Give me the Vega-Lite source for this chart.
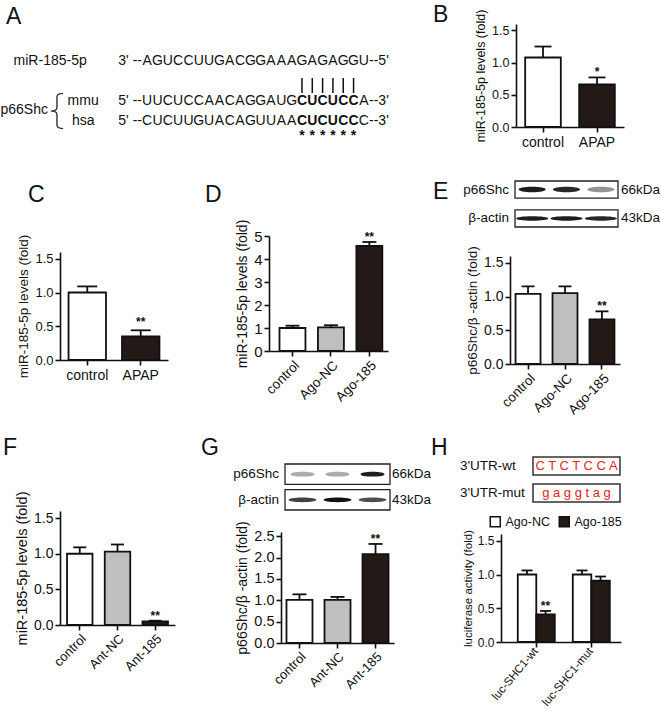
{
  "$schema": "https://vega.github.io/schema/vega-lite/v6.json",
  "background": "#ffffff",
  "padding": {"left": 0, "top": 4, "right": 0, "bottom": 0},
  "autosize": {"type": "pad"},
  "config": {
    "view": {"stroke": null},
    "font": "Liberation Sans",
    "axis": {"domainColor": "#111111", "domainWidth": 1.6, "tickColor": "#111111", "tickWidth": 1.6, "tickSize": 5, "labelColor": "#111111", "titleColor": "#111111", "titleFontWeight": "normal", "grid": false, "labelFont": "Liberation Sans", "titleFont": "Liberation Sans", "labelPadding": 2, "titlePadding": 4, "labelOverlap": false},
    "title": {"font": "Liberation Sans", "fontSize": 23, "fontWeight": "normal", "anchor": "start", "frame": "group", "baseline": "alphabetic", "color": "#111111"},
    "text": {"font": "Liberation Sans", "color": "#111111"},
    "legend": {"labelFont": "Liberation Sans"}
  },
  "resolve": {"scale": {"fill": "independent", "opacity": "independent"}, "legend": {"fill": "independent", "opacity": "independent"}},
  "datasets": {
    "Aseq": [
      {"u":0,"i":1,"t":"A","b":0},{"u":0,"i":2,"t":"G","b":0},{"u":0,"i":3,"t":"U","b":0},{"u":0,"i":4,"t":"C","b":0},{"u":0,"i":5,"t":"C","b":0},{"u":0,"i":6,"t":"U","b":0},{"u":0,"i":7,"t":"U","b":0},{"u":0,"i":8,"t":"G","b":0},{"u":0,"i":9,"t":"A","b":0},{"u":0,"i":10,"t":"C","b":0},{"u":0,"i":11,"t":"G","b":0},{"u":0,"i":12,"t":"G","b":0},{"u":0,"i":13,"t":"A","b":0},{"u":0,"i":14,"t":"A","b":0},{"u":0,"i":15,"t":"A","b":0},{"u":0,"i":16,"t":"G","b":0},{"u":0,"i":17,"t":"A","b":0},{"u":0,"i":18,"t":"G","b":0},{"u":0,"i":19,"t":"A","b":0},{"u":0,"i":20,"t":"G","b":0},{"u":0,"i":21,"t":"G","b":0},{"u":0,"i":22,"t":"U","b":0},
      {"u":2,"i":1,"t":"U","b":0},{"u":2,"i":2,"t":"U","b":0},{"u":2,"i":3,"t":"C","b":0},{"u":2,"i":4,"t":"U","b":0},{"u":2,"i":5,"t":"C","b":0},{"u":2,"i":6,"t":"C","b":0},{"u":2,"i":7,"t":"A","b":0},{"u":2,"i":8,"t":"A","b":0},{"u":2,"i":9,"t":"C","b":0},{"u":2,"i":10,"t":"A","b":0},{"u":2,"i":11,"t":"G","b":0},{"u":2,"i":12,"t":"G","b":0},{"u":2,"i":13,"t":"A","b":0},{"u":2,"i":14,"t":"U","b":0},{"u":2,"i":15,"t":"G","b":0},{"u":2,"i":16,"t":"C","b":1},{"u":2,"i":17,"t":"U","b":1},{"u":2,"i":18,"t":"C","b":1},{"u":2,"i":19,"t":"U","b":1},{"u":2,"i":20,"t":"C","b":1},{"u":2,"i":21,"t":"C","b":1},{"u":2,"i":22,"t":"A","b":0},
      {"u":3,"i":1,"t":"C","b":0},{"u":3,"i":2,"t":"U","b":0},{"u":3,"i":3,"t":"C","b":0},{"u":3,"i":4,"t":"U","b":0},{"u":3,"i":5,"t":"U","b":0},{"u":3,"i":6,"t":"G","b":0},{"u":3,"i":7,"t":"U","b":0},{"u":3,"i":8,"t":"A","b":0},{"u":3,"i":9,"t":"C","b":0},{"u":3,"i":10,"t":"A","b":0},{"u":3,"i":11,"t":"G","b":0},{"u":3,"i":12,"t":"U","b":0},{"u":3,"i":13,"t":"U","b":0},{"u":3,"i":14,"t":"A","b":0},{"u":3,"i":15,"t":"A","b":0},{"u":3,"i":16,"t":"C","b":1},{"u":3,"i":17,"t":"U","b":1},{"u":3,"i":18,"t":"C","b":1},{"u":3,"i":19,"t":"U","b":1},{"u":3,"i":20,"t":"C","b":1},{"u":3,"i":21,"t":"C","b":1},{"u":3,"i":22,"t":"C","b":0}
    ],
    "Aend": [
      {"u":0,"i":0.5,"t":"3' --","s":"L"},{"u":0,"i":22.5,"t":"--5'","s":"R"},
      {"u":2,"i":0.5,"t":"5' --","s":"L"},{"u":2,"i":22.5,"t":"--3'","s":"R"},
      {"u":3,"i":0.5,"t":"5' --","s":"L"},{"u":3,"i":22.5,"t":"--3'","s":"R"}
    ],
    "Alab": [
      {"u":0,"i":-8.4,"t":"miR-185-5p","a":"c"},
      {"u":2,"i":-5.2,"t":"mmu","a":"c"},
      {"u":3,"i":-5.2,"t":"hsa","a":"c"},
      {"u":2.45,"i":-8.61,"t":"p66Shc","a":"r"}
    ],
    "Apair": [{"i":16},{"i":17},{"i":18},{"i":19},{"i":20},{"i":21}],
    "B": [{"g":"control","v":1.08,"hi":1.25,"s":""},{"g":"APAP","v":0.66,"hi":0.77,"s":"*"}],
    "C": [{"g":"control","v":1.0,"hi":1.09,"s":""},{"g":"APAP","v":0.35,"hi":0.44,"s":"**"}],
    "D": [{"g":"control","v":1.0,"hi":1.1,"s":""},{"g":"Ago-NC","v":1.03,"hi":1.12,"s":""},{"g":"Ago-185","v":4.57,"hi":4.74,"s":"**"}],
    "E": [{"g":"control","v":1.04,"hi":1.15,"s":""},{"g":"Ago-NC","v":1.05,"hi":1.15,"s":""},{"g":"Ago-185","v":0.66,"hi":0.78,"s":"**"}],
    "F": [{"g":"control","v":1.0,"hi":1.09,"s":""},{"g":"Ant-NC","v":1.03,"hi":1.13,"s":""},{"g":"Ant-185","v":0.05,"hi":0.06,"s":"**"}],
    "G": [{"g":"control","v":1.01,"hi":1.14,"s":""},{"g":"Ant-NC","v":1.01,"hi":1.08,"s":""},{"g":"Ant-185","v":2.08,"hi":2.32,"s":"**"}],
    "H": [
      {"c":"luc-SHC1-wt","t":"Ago-NC","v":1.0,"hi":1.06,"s":""},
      {"c":"luc-SHC1-wt","t":"Ago-185","v":0.41,"hi":0.46,"s":"**"},
      {"c":"luc-SHC1-mut","t":"Ago-NC","v":1.0,"hi":1.06,"s":""},
      {"c":"luc-SHC1-mut","t":"Ago-185","v":0.91,"hi":0.97,"s":""}
    ],
    "Blotbox": [{"p":"p66Shc","k":"66kDa"},{"p":"β-actin","k":"43kDa"}],
    "Eband": [
      {"p":"p66Shc","lane":0.5,"int":0.95},{"p":"p66Shc","lane":1.5,"int":0.9},{"p":"p66Shc","lane":2.5,"int":0.45},
      {"p":"β-actin","lane":0.5,"int":0.95},{"p":"β-actin","lane":1.5,"int":0.95},{"p":"β-actin","lane":2.5,"int":0.9}
    ],
    "Gband": [
      {"p":"p66Shc","lane":0.5,"int":0.35},{"p":"p66Shc","lane":1.5,"int":0.35},{"p":"p66Shc","lane":2.5,"int":0.95},
      {"p":"β-actin","lane":0.5,"int":0.8},{"p":"β-actin","lane":1.5,"int":1.0},{"p":"β-actin","lane":2.5,"int":0.75}
    ],
    "Hbox": [{"r":"wt","lab":"3'UTR-wt","seq":"C T C T C C A"},{"r":"mut","lab":"3'UTR-mut","seq":"g a g g t a g"}]
  },
  "columns": 3,
  "align": "each",
  "bounds": "flush",
  "spacing": {"row": 54, "column": 0},
  "concat": [
    {
      "width": 209, "height": 103,
      "title": {"text": "A", "dx": -54, "offset": -5},
      "layer": [
        {"data": {"name": "Aseq"}, "transform": [{"filter": "datum.b == 0"}],
         "mark": {"type": "text", "fontSize": 14, "baseline": "middle", "align": "center"},
         "encoding": {
           "x": {"field": "i", "type": "quantitative", "scale": {"domain": [-7.446, 12.806], "nice": false, "zero": false}, "axis": null},
           "y": {"field": "u", "type": "quantitative", "scale": {"domain": [-1.85, 3.3], "reverse": true, "nice": false, "zero": false}, "axis": null},
           "text": {"field": "t"}}},
        {"data": {"name": "Aseq"}, "transform": [{"filter": "datum.b == 1"}],
         "mark": {"type": "text", "fontSize": 14, "fontWeight": "bold", "baseline": "middle", "align": "center"},
         "encoding": {"x": {"field": "i", "type": "quantitative"}, "y": {"field": "u", "type": "quantitative"}, "text": {"field": "t"}}},
        {"data": {"name": "Aend"}, "transform": [{"filter": "datum.s == 'L'"}],
         "mark": {"type": "text", "fontSize": 14, "baseline": "middle", "align": "right"},
         "encoding": {"x": {"field": "i", "type": "quantitative"}, "y": {"field": "u", "type": "quantitative"}, "text": {"field": "t"}}},
        {"data": {"name": "Aend"}, "transform": [{"filter": "datum.s == 'R'"}],
         "mark": {"type": "text", "fontSize": 14, "baseline": "middle", "align": "left"},
         "encoding": {"x": {"field": "i", "type": "quantitative"}, "y": {"field": "u", "type": "quantitative"}, "text": {"field": "t"}}},
        {"data": {"name": "Alab"}, "transform": [{"filter": "datum.a == 'c'"}],
         "mark": {"type": "text", "fontSize": 14, "baseline": "middle", "align": "center"},
         "encoding": {"x": {"field": "i", "type": "quantitative"}, "y": {"field": "u", "type": "quantitative"}, "text": {"field": "t"}}},
        {"data": {"name": "Alab"}, "transform": [{"filter": "datum.a == 'r'"}],
         "mark": {"type": "text", "fontSize": 14, "baseline": "middle", "align": "right"},
         "encoding": {"x": {"field": "i", "type": "quantitative"}, "y": {"field": "u", "type": "quantitative"}, "text": {"field": "t"}}},
        {"data": {"name": "Apair"},
         "mark": {"type": "rule", "strokeWidth": 1.5, "color": "#111111"},
         "encoding": {"x": {"field": "i", "type": "quantitative"}, "y": {"datum": 0.85}, "y2": {"datum": 1.6}}},
        {"data": {"name": "Apair"},
         "mark": {"type": "text", "text": "*", "fontSize": 14, "fontWeight": "bold", "baseline": "alphabetic", "align": "center"},
         "encoding": {"x": {"field": "i", "type": "quantitative"}, "y": {"datum": 3.97}}},
        {"data": {"values": [{"k": "brace"}]},
         "mark": {"type": "point", "shape": "M0.35,-1 C0.1,-1 0,-0.95 0,-0.8 L0,-0.2 C0,-0.08 -0.1,0 -0.35,0 C-0.1,0 0,0.08 0,0.2 L0,0.8 C0,0.95 0.1,1 0.35,1", "filled": false, "size": 1225, "stroke": "#111111", "strokeWidth": 1.2, "opacity": 1},
         "encoding": {"x": {"datum": -7.74}, "y": {"datum": 2.5}}}
      ]
    },
    {
      "width": 232, "height": 103,
      "data": {"values": [{"t": ""}]},
      "mark": {"type": "text"},
      "encoding": {"text": {"field": "t"}}
    },
    {
      "width": 120, "height": 103,
      "title": {"text": "B", "dx": -68, "offset": -18},
      "data": {"name": "B"},
      "layer": [
        {"mark": {"type": "bar", "stroke": "#111111", "strokeWidth": 1.8},
         "encoding": {
           "x": {"field": "g", "type": "nominal", "sort": null, "scale": {"range": [15, 123], "paddingInner": 0.34, "paddingOuter": 0.17}, "axis": {"title": null, "labelAngle": 0, "labelFontSize": 14, "labelPadding": 3}},
           "y": {"field": "v", "type": "quantitative", "scale": {"domain": [0, 1.5], "range": [103, 0]}, "axis": {"title": "miR-185-5p levels (fold)", "values": [0, 0.5, 1, 1.5], "tickCount": 4, "format": ".1f", "labelFontSize": 12.5, "titleFontSize": 12.5, "offset": -15, "labelOverlap": false}},
           "fill": {"field": "g", "type": "nominal", "scale": {"domain": ["control", "APAP"], "range": ["#ffffff", "#231916"]}, "legend": null}}},
        {"mark": {"type": "rule", "strokeWidth": 1.8, "color": "#111111"},
         "encoding": {"x": {"field": "g", "type": "nominal", "sort": null}, "y": {"field": "v", "type": "quantitative"}, "y2": {"field": "hi"}}},
        {"mark": {"type": "tick", "orient": "horizontal", "size": 17, "thickness": 1.8, "color": "#111111", "opacity": 1},
         "encoding": {"x": {"field": "g", "type": "nominal", "sort": null}, "y": {"field": "hi", "type": "quantitative"}}},
        {"mark": {"type": "text", "baseline": "alphabetic", "dy": -1, "fontSize": 12, "fontWeight": "bold"},
         "encoding": {"x": {"field": "g", "type": "nominal", "sort": null}, "y": {"field": "hi", "type": "quantitative"}, "text": {"field": "s"}}}
      ]
    },
    {
      "width": 209, "height": 183,
      "title": {"text": "C", "dx": -32, "offset": -26},
      "data": {"name": "C"},
      "layer": [
        {"mark": {"type": "bar", "stroke": "#111111", "strokeWidth": 1.8},
         "encoding": {
           "x": {"field": "g", "type": "nominal", "sort": null, "scale": {"range": [0, 108], "paddingInner": 0.3, "paddingOuter": 0.16}, "axis": {"title": null, "labelAngle": 0, "labelFontSize": 14, "labelPadding": 3, "offset": -4}},
           "y": {"field": "v", "type": "quantitative", "scale": {"domain": [0, 1.5], "range": [179, 71]}, "axis": {"title": "miR-185-5p levels (fold)", "values": [0, 0.5, 1, 1.5], "format": ".1f", "labelFontSize": 13, "titleFontSize": 13.5, "labelOverlap": false}},
           "fill": {"field": "g", "type": "nominal", "scale": {"domain": ["control", "APAP"], "range": ["#ffffff", "#231916"]}, "legend": null}}},
        {"mark": {"type": "rule", "strokeWidth": 1.8, "color": "#111111"},
         "encoding": {"x": {"field": "g", "type": "nominal", "sort": null}, "y": {"field": "v", "type": "quantitative"}, "y2": {"field": "hi"}}},
        {"mark": {"type": "tick", "orient": "horizontal", "size": 20, "thickness": 1.8, "color": "#111111", "opacity": 1},
         "encoding": {"x": {"field": "g", "type": "nominal", "sort": null}, "y": {"field": "hi", "type": "quantitative"}}},
        {"mark": {"type": "text", "baseline": "alphabetic", "dy": -4, "fontSize": 12, "fontWeight": "bold"},
         "encoding": {"x": {"field": "g", "type": "nominal", "sort": null}, "y": {"field": "hi", "type": "quantitative"}, "text": {"field": "s"}}}
      ]
    },
    {
      "width": 232, "height": 183,
      "title": {"text": "D", "dx": -64, "offset": -26},
      "data": {"name": "D"},
      "layer": [
        {"mark": {"type": "bar", "stroke": "#111111", "strokeWidth": 1.8},
         "encoding": {
           "x": {"field": "g", "type": "nominal", "sort": null, "scale": {"range": [0, 119], "paddingInner": 0.325, "paddingOuter": 0.21, "align": 0.65}, "axis": {"title": null, "labelAngle": -45, "labelFontSize": 13.5, "labelPadding": 2, "offset": -13}},
           "y": {"field": "v", "type": "quantitative", "scale": {"domain": [0, 5], "range": [170, 55]}, "axis": {"title": "miR-185-5p levels (fold)", "values": [0, 1, 2, 3, 4, 5], "tickCount": 6, "format": ".0f", "labelFontSize": 15, "titleFontSize": 14, "labelOverlap": false}},
           "fill": {"field": "g", "type": "nominal", "scale": {"domain": ["control", "Ago-NC", "Ago-185"], "range": ["#ffffff", "#bfbfbf", "#231916"]}, "legend": null}}},
        {"mark": {"type": "rule", "strokeWidth": 1.8, "color": "#111111"},
         "encoding": {"x": {"field": "g", "type": "nominal", "sort": null}, "y": {"field": "v", "type": "quantitative"}, "y2": {"field": "hi"}}},
        {"mark": {"type": "tick", "orient": "horizontal", "size": 14, "thickness": 1.8, "color": "#111111", "opacity": 1},
         "encoding": {"x": {"field": "g", "type": "nominal", "sort": null}, "y": {"field": "hi", "type": "quantitative"}}},
        {"mark": {"type": "text", "baseline": "alphabetic", "dy": -1, "fontSize": 12, "fontWeight": "bold"},
         "encoding": {"x": {"field": "g", "type": "nominal", "sort": null}, "y": {"field": "hi", "type": "quantitative"}, "text": {"field": "s"}}}
      ]
    },
    {
      "width": 120, "height": 183,
      "title": {"text": "E", "dx": -68, "offset": -24},
      "layer": [
        {
          "data": {"name": "E"},
          "layer": [
            {"mark": {"type": "bar", "stroke": "#111111", "strokeWidth": 1.8},
             "encoding": {
               "x": {"field": "g", "type": "nominal", "sort": null, "scale": {"range": [9, 119], "paddingInner": 0.324, "paddingOuter": 0.15}, "axis": {"title": null, "labelAngle": -45, "labelFontSize": 13.5, "labelPadding": 2}},
               "y": {"field": "v", "type": "quantitative", "scale": {"domain": [0, 1.5], "range": [183, 75]}, "axis": {"title": "p66Shc/β -actin (fold)", "values": [0, 0.5, 1, 1.5], "format": ".1f", "labelFontSize": 14, "titleFontSize": 13.5, "offset": -9, "labelOverlap": false}},
               "fill": {"field": "g", "type": "nominal", "scale": {"domain": ["control", "Ago-NC", "Ago-185"], "range": ["#ffffff", "#bfbfbf", "#231916"]}, "legend": null}}},
            {"mark": {"type": "rule", "strokeWidth": 1.8, "color": "#111111"},
             "encoding": {"x": {"field": "g", "type": "nominal", "sort": null}, "y": {"field": "v", "type": "quantitative"}, "y2": {"field": "hi"}}},
            {"mark": {"type": "tick", "orient": "horizontal", "size": 13, "thickness": 1.8, "color": "#111111", "opacity": 1},
             "encoding": {"x": {"field": "g", "type": "nominal", "sort": null}, "y": {"field": "hi", "type": "quantitative"}}},
            {"mark": {"type": "text", "baseline": "alphabetic", "dy": -1, "fontSize": 12, "fontWeight": "bold"},
             "encoding": {"x": {"field": "g", "type": "nominal", "sort": null}, "y": {"field": "hi", "type": "quantitative"}, "text": {"field": "s"}}}
          ]
        },
        {
          "layer": [
            {"data": {"name": "Blotbox"},
             "mark": {"type": "rect", "fill": "#ffffff", "stroke": "#222222", "strokeWidth": 1.3},
             "encoding": {
               "x": {"datum": 0, "type": "quantitative", "scale": {"domain": [0, 3], "range": [14, 117], "nice": false, "zero": false}, "axis": null},
               "x2": {"datum": 3},
               "y": {"field": "p", "type": "nominal", "sort": null, "scale": {"domain": ["p66Shc", "β-actin"], "range": [0, 46], "paddingInner": 0.41, "paddingOuter": 0}, "axis": null}}},
            {"data": {"name": "Blotbox"},
             "mark": {"type": "text", "align": "right", "baseline": "middle", "dx": -6, "fontSize": 13.5},
             "encoding": {"x": {"datum": 0, "type": "quantitative"}, "y": {"field": "p", "type": "nominal", "sort": null}, "text": {"field": "p"}}},
            {"data": {"name": "Blotbox"},
             "mark": {"type": "text", "align": "left", "baseline": "middle", "dx": 3, "fontSize": 13.5},
             "encoding": {"x": {"datum": 3, "type": "quantitative"}, "y": {"field": "p", "type": "nominal", "sort": null}, "text": {"field": "k"}}},
            {"data": {"name": "Eband"}, "transform": [{"filter": "datum.p == 'p66Shc'"}],
             "mark": {"type": "point", "shape": "M-1,0 C-1,-0.12 -0.6,-0.2 0,-0.2 C0.6,-0.2 1,-0.12 1,0 C1,0.12 0.6,0.2 0,0.2 C-0.6,0.2 -1,0.12 -1,0 Z", "filled": true, "color": "#111111", "size": 729},
             "encoding": {"x": {"field": "lane", "type": "quantitative"}, "y": {"field": "p", "type": "nominal", "sort": null}, "opacity": {"field": "int", "type": "quantitative", "scale": {"domain": [0, 1], "range": [0, 1]}, "legend": null}}},
            {"data": {"name": "Eband"}, "transform": [{"filter": "datum.p == 'β-actin'"}],
             "mark": {"type": "point", "shape": "M-1,0 C-1,-0.08 -0.6,-0.14 0,-0.14 C0.6,-0.14 1,-0.08 1,0 C1,0.08 0.6,0.14 0,0.14 C-0.6,0.14 -1,0.08 -1,0 Z", "filled": true, "color": "#111111", "size": 1024},
             "encoding": {"x": {"field": "lane", "type": "quantitative"}, "y": {"field": "p", "type": "nominal", "sort": null}, "opacity": {"field": "int", "type": "quantitative", "scale": {"domain": [0, 1], "range": [0, 1]}, "legend": null}}}
          ]
        }
      ],
      "resolve": {"scale": {"x": "independent", "y": "independent"}}
    },
    {
      "width": 209, "height": 225,
      "title": {"text": "F", "dx": -57, "offset": -42},
      "data": {"name": "F"},
      "layer": [
        {"mark": {"type": "bar", "stroke": "#111111", "strokeWidth": 1.8},
         "encoding": {
           "x": {"field": "g", "type": "nominal", "sort": null, "scale": {"range": [0, 115], "paddingInner": 0.325, "paddingOuter": 0.186}, "axis": {"title": null, "labelAngle": -45, "labelFontSize": 13, "labelPadding": 2, "offset": -18}},
           "y": {"field": "v", "type": "quantitative", "scale": {"domain": [0, 1.5], "range": [207, 93]}, "axis": {"title": "miR-185-5p levels (fold)", "values": [0, 0.5, 1, 1.5], "format": ".1f", "labelFontSize": 14, "titleFontSize": 14.5, "labelOverlap": false}},
           "fill": {"field": "g", "type": "nominal", "scale": {"domain": ["control", "Ant-NC", "Ant-185"], "range": ["#ffffff", "#bfbfbf", "#231916"]}, "legend": null}}},
        {"mark": {"type": "rule", "strokeWidth": 1.8, "color": "#111111"},
         "encoding": {"x": {"field": "g", "type": "nominal", "sort": null}, "y": {"field": "v", "type": "quantitative"}, "y2": {"field": "hi"}}},
        {"mark": {"type": "tick", "orient": "horizontal", "size": 13, "thickness": 1.8, "color": "#111111", "opacity": 1},
         "encoding": {"x": {"field": "g", "type": "nominal", "sort": null}, "y": {"field": "hi", "type": "quantitative"}}},
        {"mark": {"type": "text", "baseline": "alphabetic", "dy": -1, "fontSize": 12, "fontWeight": "bold"},
         "encoding": {"x": {"field": "g", "type": "nominal", "sort": null}, "y": {"field": "hi", "type": "quantitative"}, "text": {"field": "s"}}}
      ]
    },
    {
      "width": 232, "height": 225,
      "title": {"text": "G", "dx": -68, "offset": -42},
      "layer": [
        {
          "data": {"name": "G"},
          "layer": [
            {"mark": {"type": "bar", "stroke": "#111111", "strokeWidth": 1.8},
             "encoding": {
               "x": {"field": "g", "type": "nominal", "sort": null, "scale": {"range": [12, 125], "paddingInner": 0.316, "paddingOuter": 0.144}, "axis": {"title": null, "labelAngle": -45, "labelFontSize": 13, "labelPadding": 2}},
               "y": {"field": "v", "type": "quantitative", "scale": {"domain": [0, 2.5], "range": [225, 114]}, "axis": {"title": "p66Shc/β -actin (fold)", "values": [0, 0.5, 1, 1.5, 2, 2.5], "format": ".1f", "labelFontSize": 14.5, "titleFontSize": 14, "offset": -12, "labelOverlap": false}},
               "fill": {"field": "g", "type": "nominal", "scale": {"domain": ["control", "Ant-NC", "Ant-185"], "range": ["#ffffff", "#bfbfbf", "#231916"]}, "legend": null}}},
            {"mark": {"type": "rule", "strokeWidth": 1.8, "color": "#111111"},
             "encoding": {"x": {"field": "g", "type": "nominal", "sort": null}, "y": {"field": "v", "type": "quantitative"}, "y2": {"field": "hi"}}},
            {"mark": {"type": "tick", "orient": "horizontal", "size": 14, "thickness": 1.8, "color": "#111111", "opacity": 1},
             "encoding": {"x": {"field": "g", "type": "nominal", "sort": null}, "y": {"field": "hi", "type": "quantitative"}}},
            {"mark": {"type": "text", "baseline": "alphabetic", "dy": -1, "fontSize": 12, "fontWeight": "bold"},
             "encoding": {"x": {"field": "g", "type": "nominal", "sort": null}, "y": {"field": "hi", "type": "quantitative"}, "text": {"field": "s"}}}
          ]
        },
        {
          "layer": [
            {"data": {"name": "Blotbox"},
             "mark": {"type": "rect", "fill": "#ffffff", "stroke": "#222222", "strokeWidth": 1.3},
             "encoding": {
               "x": {"datum": 0, "type": "quantitative", "scale": {"domain": [0, 3], "range": [16, 121], "nice": false, "zero": false}, "axis": null},
               "x2": {"datum": 3},
               "y": {"field": "p", "type": "nominal", "sort": null, "scale": {"domain": ["p66Shc", "β-actin"], "range": [46, 92], "paddingInner": 0.2, "paddingOuter": 0}, "axis": null}}},
            {"data": {"name": "Blotbox"},
             "mark": {"type": "text", "align": "right", "baseline": "middle", "dx": -6, "fontSize": 13.5},
             "encoding": {"x": {"datum": 0, "type": "quantitative"}, "y": {"field": "p", "type": "nominal", "sort": null}, "text": {"field": "p"}}},
            {"data": {"name": "Blotbox"},
             "mark": {"type": "text", "align": "left", "baseline": "middle", "dx": 2, "fontSize": 13.5},
             "encoding": {"x": {"datum": 3, "type": "quantitative"}, "y": {"field": "p", "type": "nominal", "sort": null}, "text": {"field": "k"}}},
            {"data": {"name": "Gband"}, "transform": [{"filter": "datum.p == 'p66Shc'"}],
             "mark": {"type": "point", "shape": "M-1,0 C-1,-0.12 -0.6,-0.2 0,-0.2 C0.6,-0.2 1,-0.12 1,0 C1,0.12 0.6,0.2 0,0.2 C-0.6,0.2 -1,0.12 -1,0 Z", "filled": true, "color": "#111111", "size": 576},
             "encoding": {"x": {"field": "lane", "type": "quantitative"}, "y": {"field": "p", "type": "nominal", "sort": null}, "opacity": {"field": "int", "type": "quantitative", "scale": {"domain": [0, 1], "range": [0, 1]}, "legend": null}}},
            {"data": {"name": "Gband"}, "transform": [{"filter": "datum.p == 'β-actin'"}],
             "mark": {"type": "point", "shape": "M-1,0 C-1,-0.1 -0.6,-0.17 0,-0.17 C0.6,-0.17 1,-0.1 1,0 C1,0.1 0.6,0.17 0,0.17 C-0.6,0.17 -1,0.1 -1,0 Z", "filled": true, "color": "#111111", "size": 784},
             "encoding": {"x": {"field": "lane", "type": "quantitative"}, "y": {"field": "p", "type": "nominal", "sort": null}, "opacity": {"field": "int", "type": "quantitative", "scale": {"domain": [0, 1], "range": [0, 1]}, "legend": null}}}
          ]
        }
      ],
      "resolve": {"scale": {"x": "independent", "y": "independent"}}
    },
    {
      "width": 120, "height": 225,
      "title": {"text": "H", "dx": -70, "offset": -42},
      "layer": [
        {
          "data": {"name": "H"},
          "layer": [
            {"mark": {"type": "bar", "stroke": "#111111", "strokeWidth": 1.8},
             "encoding": {
               "x": {"field": "c", "type": "nominal", "sort": ["luc-SHC1-wt", "luc-SHC1-mut"], "scale": {"range": [0, 120], "paddingInner": 0.327, "paddingOuter": 0.254, "align": 0.6}, "axis": {"title": null, "labelAngle": -50, "labelFontSize": 11.5, "labelPadding": 2, "offset": -1}},
               "xOffset": {"field": "t", "type": "nominal", "sort": ["Ago-NC", "Ago-185"], "scale": {"paddingInner": 0, "paddingOuter": 0}},
               "y": {"field": "v", "type": "quantitative", "scale": {"domain": [0, 1.5], "range": [224, 116]}, "axis": {"title": "luciferase activity (fold)", "values": [0, 0.5, 1, 1.5], "format": ".1f", "labelFontSize": 12, "titleFontSize": 11.5, "labelOverlap": false}},
               "fill": {"field": "t", "type": "nominal", "scale": {"domain": ["Ago-NC", "Ago-185"], "range": ["#ffffff", "#231916"]},
                 "legend": {"orient": "none", "legendX": -12, "legendY": 97, "direction": "horizontal", "title": null, "symbolType": "square", "symbolSize": 100, "symbolStrokeColor": "#111111", "symbolStrokeWidth": 1.5, "labelFontSize": 12.5, "labelColor": "#111111", "labelOffset": 4, "columnPadding": 6}}}},
            {"mark": {"type": "rule", "strokeWidth": 1.8, "color": "#111111"},
             "encoding": {"x": {"field": "c", "type": "nominal", "sort": ["luc-SHC1-wt", "luc-SHC1-mut"]}, "xOffset": {"field": "t", "type": "nominal", "sort": ["Ago-NC", "Ago-185"]}, "y": {"field": "v", "type": "quantitative"}, "y2": {"field": "hi"}}},
            {"mark": {"type": "tick", "orient": "horizontal", "size": 11, "thickness": 1.8, "color": "#111111", "opacity": 1},
             "encoding": {"x": {"field": "c", "type": "nominal", "sort": ["luc-SHC1-wt", "luc-SHC1-mut"]}, "xOffset": {"field": "t", "type": "nominal", "sort": ["Ago-NC", "Ago-185"]}, "y": {"field": "hi", "type": "quantitative"}}},
            {"mark": {"type": "text", "baseline": "alphabetic", "dy": -1, "fontSize": 12, "fontWeight": "bold"},
             "encoding": {"x": {"field": "c", "type": "nominal", "sort": ["luc-SHC1-wt", "luc-SHC1-mut"]}, "xOffset": {"field": "t", "type": "nominal", "sort": ["Ago-NC", "Ago-185"]}, "y": {"field": "hi", "type": "quantitative"}, "text": {"field": "s"}}}
          ]
        },
        {
          "data": {"name": "Hbox"},
          "layer": [
            {"mark": {"type": "rect", "fill": "#ffffff", "stroke": "#333333", "strokeWidth": 1.5},
             "encoding": {
               "x": {"datum": 0, "type": "quantitative", "scale": {"domain": [0, 1], "range": [32, 119], "nice": false, "zero": false}, "axis": null},
               "x2": {"datum": 1},
               "y": {"field": "r", "type": "nominal", "sort": null, "scale": {"domain": ["wt", "mut"], "range": [39, 84], "paddingInner": 0.33, "paddingOuter": 0}, "axis": null}}},
            {"mark": {"type": "text", "align": "left", "baseline": "middle", "fontSize": 13.5},
             "encoding": {"x": {"datum": -0.84, "type": "quantitative"}, "y": {"field": "r", "type": "nominal", "sort": null}, "text": {"field": "lab"}}},
            {"mark": {"type": "text", "align": "center", "baseline": "middle", "fontSize": 13, "color": "#e31e24"},
             "encoding": {"x": {"datum": 0.5, "type": "quantitative"}, "y": {"field": "r", "type": "nominal", "sort": null}, "text": {"field": "seq"}}}
          ]
        }
      ],
      "resolve": {"scale": {"x": "independent", "y": "independent"}}
    }
  ]
}
